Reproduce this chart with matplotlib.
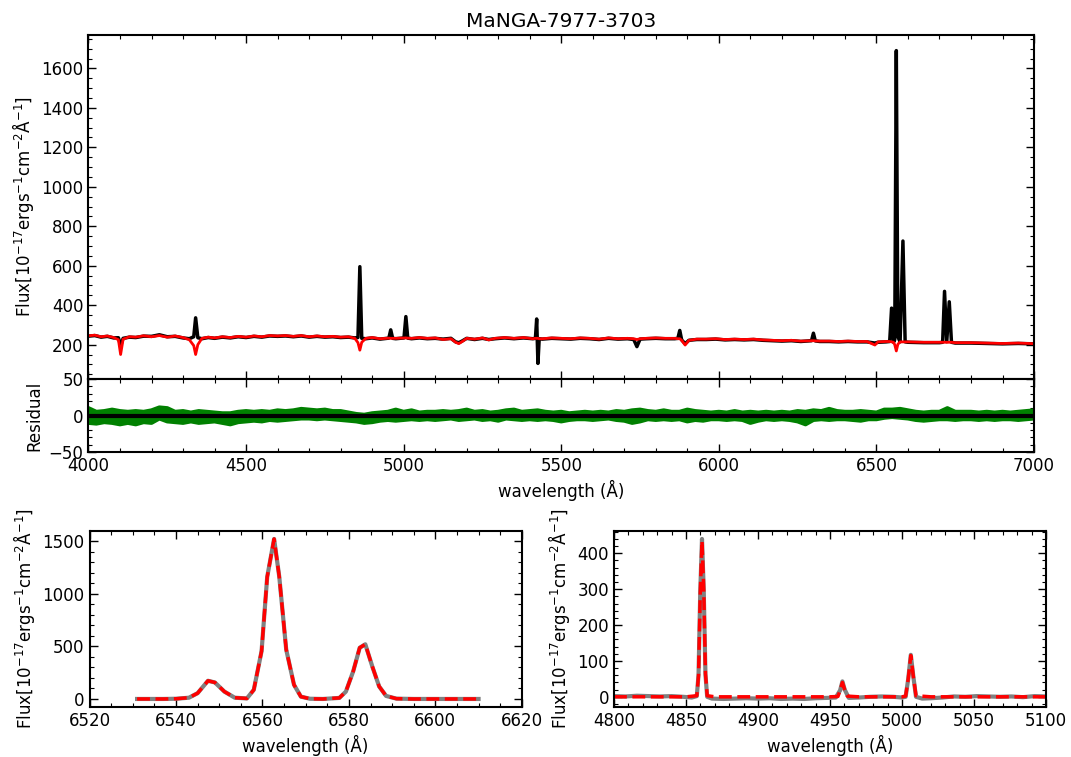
import numpy as np
import matplotlib
matplotlib.use("Agg")
import matplotlib.pyplot as plt
from matplotlib.ticker import AutoMinorLocator

# ---------------- data ----------------
title = "MaNGA-7977-3703"

wave = [4000, 4020, 4040, 4060, 4080, 4095, 4102, 4110, 4130, 4150, 4175, 4200, 4225, 4250,
        4275, 4300, 4320, 4334, 4340, 4347, 4360, 4380, 4400, 4425, 4450, 4475, 4500, 4525,
        4550, 4575, 4600, 4625, 4650, 4675, 4700, 4725, 4750, 4775, 4800, 4825, 4845, 4855,
        4861, 4867, 4880, 4900, 4925, 4953, 4959, 4965, 4975, 5001, 5007, 5013, 5025, 5050,
        5075, 5100, 5125, 5150, 5165, 5175, 5185, 5200, 5225, 5250, 5270, 5290, 5320, 5350,
        5380, 5410, 5418, 5422, 5426, 5430, 5440, 5470, 5500, 5530, 5560, 5590, 5620, 5650,
        5680, 5710, 5730, 5740, 5750, 5770, 5800, 5830, 5860, 5870, 5876, 5882, 5893, 5905,
        5930, 5960, 5990, 6020, 6050, 6080, 6110, 6140, 6170, 6200, 6230, 6260, 6294, 6300,
        6306, 6320, 6350, 6380, 6410, 6440, 6470, 6495, 6505, 6530, 6542, 6548, 6554, 6558,
        6563, 6568, 6575, 6584, 6591, 6600, 6650, 6700, 6710, 6716, 6723, 6731, 6738, 6750,
        6800, 6850, 6900, 6950, 7000]

flux_model = [245, 248, 240, 244, 236, 225, 150, 228, 240, 238, 245, 240, 246, 238,
              244, 236, 225, 195, 150, 200, 232, 238, 234, 240, 236, 242, 238, 244,
              240, 246, 244, 246, 242, 246, 240, 244, 240, 242, 238, 240, 232, 210,
              172, 212, 232, 236, 230, 233, 232, 232, 232, 234, 234, 233, 232, 236,
              232, 234, 226, 230, 212, 205, 215, 232, 228, 234, 224, 232, 236, 232,
              236, 230, 232, 232, 232, 230, 230, 234, 232, 230, 234, 232, 228, 234,
              230, 232, 230, 226, 230, 232, 234, 232, 232, 230, 230, 222, 198, 222,
              228, 228, 230, 226, 228, 226, 228, 224, 222, 220, 222, 218, 220, 220,
              219, 218, 218, 216, 218, 216, 216, 198, 214, 216, 216, 214, 212, 200,
              168, 202, 214, 214, 214, 214, 212, 212, 212, 212, 212, 212, 212, 210,
              210, 208, 206, 208, 205]

flux_obs = [243, 246, 238, 242, 234, 235, 195, 232, 238, 236, 243, 242, 250, 240,
            242, 234, 230, 240, 336, 235, 230, 236, 232, 238, 234, 240, 236, 242,
            238, 244, 242, 244, 240, 244, 238, 242, 238, 240, 236, 238, 234, 236,
            595, 232, 230, 234, 228, 233, 275, 232, 230, 234, 342, 233, 230, 234,
            230, 232, 228, 232, 214, 210, 218, 232, 226, 232, 226, 230, 234, 230,
            234, 230, 232, 330, 105, 230, 228, 232, 230, 228, 232, 230, 226, 232,
            228, 230, 226, 190, 228, 230, 232, 230, 230, 232, 272, 224, 205, 222,
            226, 226, 228, 224, 226, 224, 226, 222, 220, 218, 220, 216, 220, 258,
            219, 216, 216, 214, 216, 214, 214, 208, 212, 214, 216, 385, 212, 225,
            1690, 240, 214, 725, 214, 212, 210, 210, 212, 470, 215, 417, 212, 208,
            208, 206, 204, 206, 204]

resid_wave = list(range(4000, 7001, 25))
resid_upper = [10, 5, 6, 8, 6, 5, 6, 5, 7, 11, 10, 5, 6, 4, 6, 5, 4, 3, 3, 5,
               6, 5, 6, 5, 7, 6, 7, 9, 8, 7, 8, 6, 6, 4, 2, 1, 3, 4, 5, 8,
               5, 7, 4, 5, 5, 6, 5, 6, 8, 5, 6, 4, 5, 7, 8, 5, 6, 7, 5, 4,
               5, 3, 4, 5, 4, 5, 4, 6, 5, 7, 8, 6, 5, 7, 5, 5, 8, 6, 5, 4,
               5, 4, 6, 4, 5, 4, 5, 4, 5, 4, 6, 5, 7, 6, 9, 6, 5, 5, 6, 5,
               4, 8, 8, 9, 7, 5, 4, 5, 5, 10, 5, 5, 5, 4, 5, 4, 5, 4, 5, 6, 7]
resid_lower = [-10, -11, -9, -10, -12, -10, -12, -9, -10, -4, -8, -9, -10, -8, -10, -9, -8, -10, -12, -9,
               -8, -7, -8, -6, -7, -6, -5, -4, -4, -5, -4, -5, -6, -7, -8, -10, -9, -7, -6, -7,
               -6, -5, -6, -5, -6, -5, -4, -6, -5, -4, -6, -5, -7, -4, -5, -6, -5, -6, -5, -6,
               -8, -6, -5, -5, -6, -5, -4, -6, -7, -10, -8, -5, -6, -5, -6, -5, -8, -6, -7, -5,
               -5, -6, -5, -6, -10, -7, -5, -6, -5, -6, -8, -12, -6, -5, -6, -5, -5, -6, -7, -5,
               -5, -3, -2, -3, -4, -6, -7, -6, -5, -5, -6, -5, -5, -6, -5, -6, -5, -5, -6, -5, -4]

ha_wave = [6531, 6534, 6537, 6540, 6543, 6545, 6547.4, 6549, 6551.2, 6553.6, 6556.4, 6558,
           6559.8, 6561.1, 6562.7, 6563.9, 6565.5, 6567.3, 6568.9, 6571, 6574, 6577.8,
           6579.3, 6581, 6582.5, 6583.8, 6585.4, 6587, 6588.6, 6591, 6595, 6600, 6605, 6610]
ha_flux = [0, 0, 0, 2, 12, 55, 173, 157, 70, 12, 5, 87,
           455, 1160, 1522, 1160, 470, 135, 22, 2, 0, 10,
           70, 263, 487, 520, 311, 119, 29, 3, 0, 0, 0, 0]

hb_model_wave = [4800, 4850, 4857.5, 4858.7, 4859.9, 4861.1, 4862.3, 4863.5, 4864.7, 4870,
                 4950, 4955.5, 4957, 4958.6, 4960.2, 4962, 4970, 5000, 5002.5, 5004.3,
                 5006.1, 5007.9, 5009.7, 5020, 5100]
hb_model_flux = [0, 0, 3, 60, 290, 435, 300, 65, 3, 0,
                 0, 1, 18, 40, 20, 2, 0, 0, 2, 50,
                 115, 55, 3, 0, 0]

hb_data_wave = [4800, 4808, 4816, 4824, 4832, 4840, 4848, 4854, 4857.5, 4858.7, 4859.9,
                4861.1, 4862.3, 4863.5, 4864.7, 4868, 4876, 4884, 4892, 4900, 4908, 4916,
                4924, 4932, 4940, 4948, 4954, 4957, 4958.6, 4960.2, 4963, 4970, 4978, 4986,
                4994, 5000, 5002.5, 5004.3, 5006.1, 5007.9, 5009.7, 5014, 5020, 5028, 5036,
                5044, 5052, 5060, 5068, 5076, 5084, 5092, 5100]
hb_data_flux = [2, 1, 3, 2, 1, 2, 0, -2, 2, 62, 295,
                440, 298, 62, 0, -5, -6, -5, -4, -5, -4, -6,
                -5, -6, -4, -3, -2, 18, 43, 20, -3, -2, 0, 1,
                0, -2, 0, 50, 117, 55, 0, -5, -4, -2, 1,
                0, 2, 1, 0, 1, -1, 2, 1]

flux_label = r"Flux[$10^{-17}$ergs$^{-1}$cm$^{-2}$Å$^{-1}$]"
wl_label = "wavelength (Å)"

# ---------------- figure ----------------
plt.rcParams['font.family'] = ['DejaVu Sans']
plt.rcParams['font.size'] = 12

fig = plt.figure(figsize=(10.71, 7.57), dpi=100)
ax_main = fig.add_axes([0.0826, 0.4993, 0.8829, 0.4545])
ax_res = fig.add_axes([0.0826, 0.4029, 0.8829, 0.0964], sharex=ax_main)
ax_ha = fig.add_axes([0.0836, 0.0661, 0.4036, 0.2325])
ax_hb = fig.add_axes([0.5733, 0.0661, 0.4034, 0.2325])


def style(ax):
    ax.tick_params(which='both', direction='in', top=True, right=True, labelsize=12)
    ax.tick_params(which='major', length=6, width=1.0)
    ax.tick_params(which='minor', length=3, width=0.8)
    ax.xaxis.set_minor_locator(AutoMinorLocator())
    ax.yaxis.set_minor_locator(AutoMinorLocator())
    for s in ax.spines.values():
        s.set_linewidth(1.5)


ax_main.plot(wave, flux_obs, color='black', lw=2.5)
ax_main.plot(wave, flux_model, color='red', lw=2.0)
ax_main.set_xlim(4000, 7000)
ax_main.set_title(title, fontsize=14.5)
ax_main.set_ylabel(flux_label)
ax_main.tick_params(labelbottom=False)
style(ax_main)

ax_res.fill_between(resid_wave, resid_lower, resid_upper, color='green', lw=0)
ax_res.plot(resid_wave, resid_upper, color='green', lw=3, solid_joinstyle='round')
ax_res.plot(resid_wave, resid_lower, color='green', lw=3, solid_joinstyle='round')
ax_res.axhline(0, color='black', lw=3)
ax_res.set_ylim(-50, 50)
ax_res.set_xlim(4000, 7000)
ax_res.set_xticks([4000, 4500, 5000, 5500, 6000, 6500, 7000])
ax_res.set_ylabel("Residual")
ax_res.set_xlabel(wl_label)
style(ax_res)

ax_ha.plot(ha_wave, ha_flux, color='gray', lw=3)
ax_ha.plot(ha_wave, ha_flux, color='red', lw=2.5, ls='--')
ax_ha.set_xlim(6520, 6620)
ax_ha.set_ylabel(flux_label)
ax_ha.set_xlabel(wl_label)
style(ax_ha)

ax_hb.plot(hb_data_wave, hb_data_flux, color='gray', lw=3)
ax_hb.plot(hb_model_wave, hb_model_flux, color='red', lw=2.5, ls='--')
ax_hb.set_xlim(4800, 5100)
ax_hb.set_ylabel(flux_label)
ax_hb.set_xlabel(wl_label)
style(ax_hb)

fig.savefig("out.png", dpi=100)
